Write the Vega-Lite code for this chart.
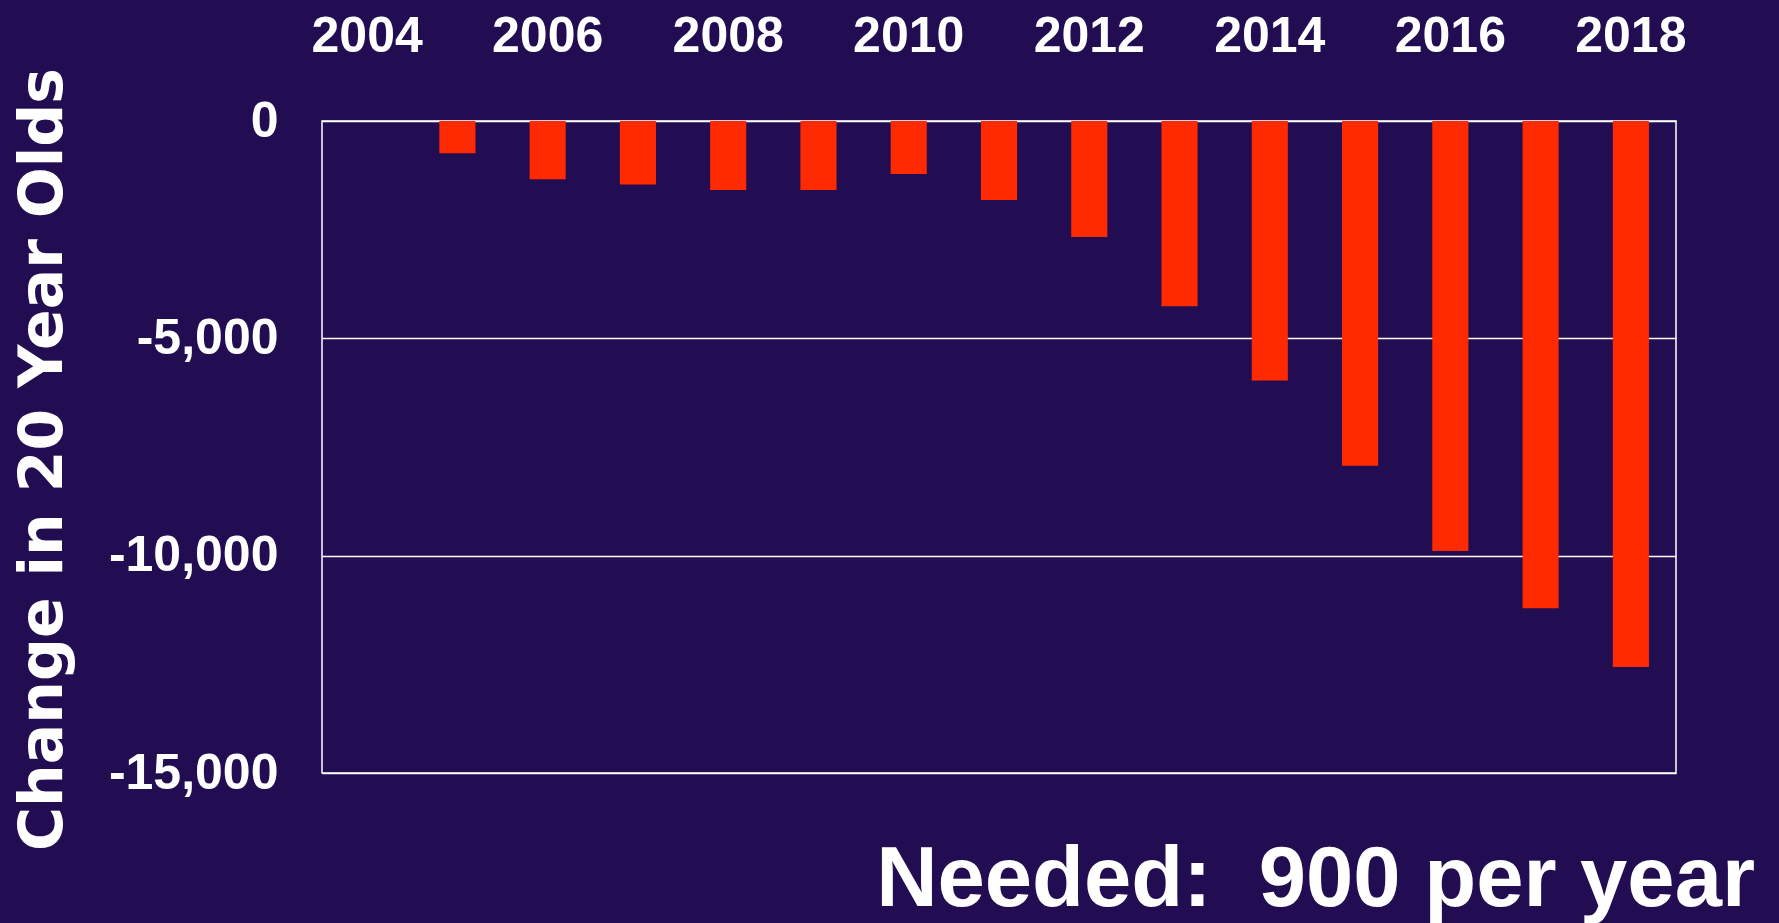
{
  "$schema": "https://vega.github.io/schema/vega-lite/v6.json",
  "autosize": "none",
  "width": 1354,
  "height": 652,
  "padding": {"left": 322, "top": 121, "right": 103, "bottom": 150},
  "background": "#220d52",
  "title": {
    "text": "Needed:\u00a0\u00a0900 per year",
    "orient": "bottom",
    "anchor": "end",
    "frame": "group",
    "font": "Liberation Sans",
    "fontSize": 85,
    "fontWeight": "bold",
    "color": "#ffffff",
    "baseline": "alphabetic",
    "offset": 56,
    "dx": 79,
    "limit": 0
  },
  "data": {
    "values": [
      {"year": 2004, "change": 0},
      {"year": 2005, "change": -740},
      {"year": 2006, "change": -1340},
      {"year": 2007, "change": -1460},
      {"year": 2008, "change": -1590},
      {"year": 2009, "change": -1590},
      {"year": 2010, "change": -1220},
      {"year": 2011, "change": -1820},
      {"year": 2012, "change": -2670},
      {"year": 2013, "change": -4260},
      {"year": 2014, "change": -5970},
      {"year": 2015, "change": -7930},
      {"year": 2016, "change": -9890},
      {"year": 2017, "change": -11210},
      {"year": 2018, "change": -12560}
    ]
  },
  "mark": {"type": "bar", "color": "#ff2a00"},
  "encoding": {
    "x": {
      "field": "year",
      "type": "ordinal",
      "scale": {"paddingInner": 0.6, "paddingOuter": 0.3},
      "axis": {
        "orient": "top",
        "title": null,
        "values": [2004, 2006, 2008, 2010, 2012, 2014, 2016, 2018],
        "labelAngle": 0,
        "labelFont": "Liberation Sans",
        "labelFontSize": 50,
        "labelFontWeight": "bold",
        "labelColor": "#ffffff",
        "labelBaseline": "alphabetic",
        "labelPadding": 70,
        "labelLimit": 0,
        "ticks": false,
        "tickSize": 0,
        "domain": false,
        "grid": false
      }
    },
    "y": {
      "field": "change",
      "type": "quantitative",
      "scale": {"domain": [-15000, 0], "nice": false},
      "axis": {
        "values": [0, -5000, -10000, -15000],
        "format": ",d",
        "labelExpr": "replace(datum.label, '\u2212', '-')",
        "labelFont": "Liberation Sans",
        "labelFontSize": 50,
        "labelFontWeight": "bold",
        "labelColor": "#ffffff",
        "labelPadding": 44,
        "labelLimit": 0,
        "ticks": false,
        "tickSize": 0,
        "domain": false,
        "grid": true,
        "gridColor": "#ffffff",
        "gridWidth": 1.5,
        "gridOpacity": 1,
        "title": "Change in 20 Year Olds",
        "titleFont": "DejaVu Sans",
        "titleFontSize": 60,
        "titleFontWeight": "bold",
        "titleColor": "#ffffff",
        "titlePadding": 48,
        "titleY": 338,
        "titleLimit": 0
      }
    }
  },
  "config": {
    "view": {"stroke": "#ffffff", "strokeWidth": 1.5}
  }
}
